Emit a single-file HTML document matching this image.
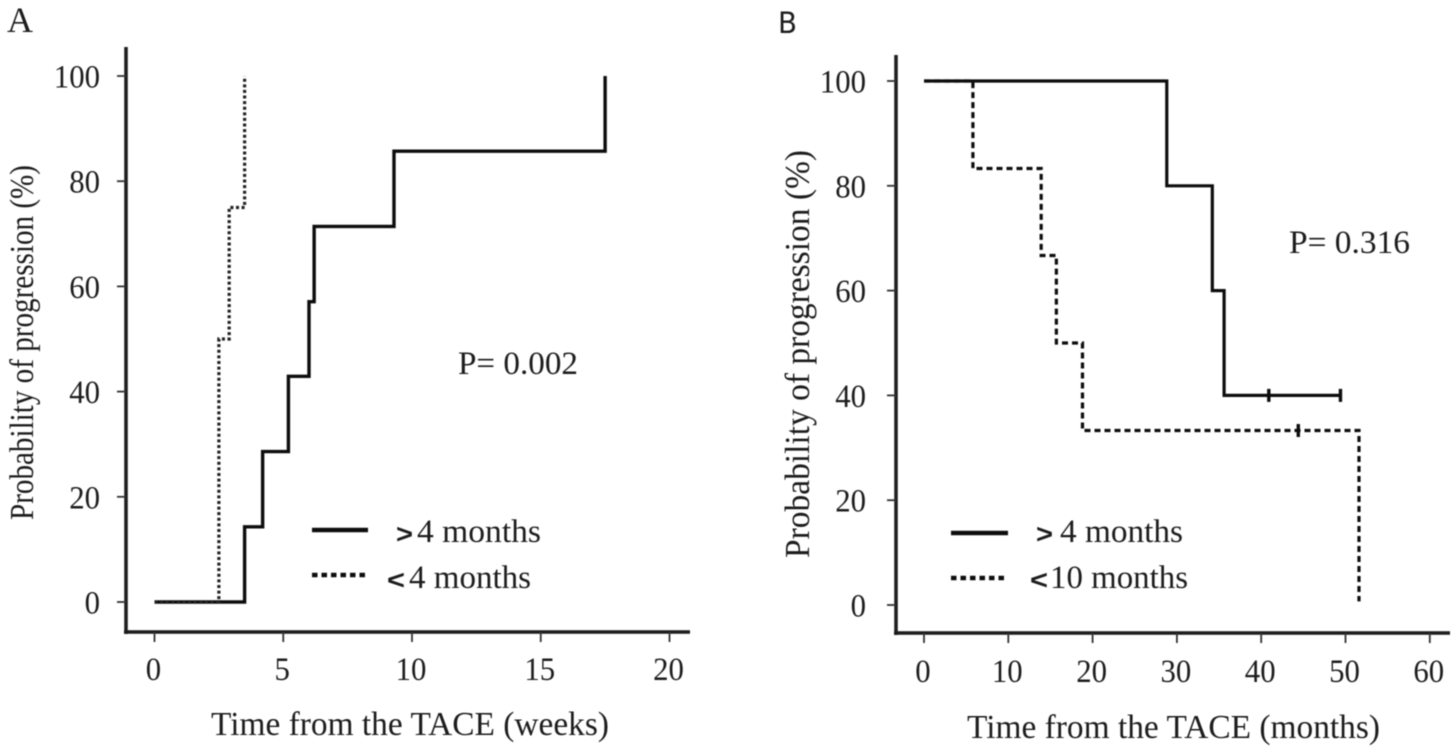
<!DOCTYPE html>
<html lang="en">
<head>
<meta charset="utf-8">
<title>Probability of progression charts</title>
<style>
html,body{margin:0;padding:0;background:#fff;width:1456px;height:752px;overflow:hidden}
svg{display:block}
text{font-family:"Liberation Serif",serif;fill:#1f1f1f}
</style>
</head>
<body>
<svg id="figure" xmlns="http://www.w3.org/2000/svg" width="1456" height="752" viewBox="0 0 1456 752">
<defs><filter id="soft" x="-5%" y="-5%" width="110%" height="110%"><feGaussianBlur stdDeviation="0.5"/></filter></defs>
<g id="root" filter="url(#soft)">
<text x="7" y="32" font-size="36">A</text>
<text x="778" y="33" font-size="29" style="font-family:'DejaVu Sans',sans-serif" textLength="19" lengthAdjust="spacingAndGlyphs">B</text>

<text x="458" y="374" font-size="33" textLength="120" lengthAdjust="spacingAndGlyphs">P= 0.002</text>
<text x="1289" y="253" font-size="33" textLength="121" lengthAdjust="spacingAndGlyphs">P= 0.316</text>

<text x="211" y="735" font-size="34" textLength="398" lengthAdjust="spacingAndGlyphs">Time from the TACE (weeks)</text>
<text x="967" y="738" font-size="34" textLength="413" lengthAdjust="spacingAndGlyphs">Time from the TACE (months)</text>
<text transform="translate(33 520) rotate(-90)" font-size="34" textLength="355" lengthAdjust="spacingAndGlyphs">Probability of progression (%)</text>
<text transform="translate(809 558) rotate(-90)" font-size="35" textLength="408" lengthAdjust="spacingAndGlyphs">Probability of progression (%)</text>

<g>
<line x1="312" y1="530" x2="368" y2="530" stroke="#111" stroke-width="4.5"/>
<text x="396" y="543" font-size="27" font-weight="bold" style="font-family:'Liberation Sans',sans-serif" textLength="17" lengthAdjust="spacingAndGlyphs">&gt;</text>
<text x="417" y="542" font-size="33" textLength="124" lengthAdjust="spacingAndGlyphs">4 months</text>
<line x1="312" y1="575" x2="368" y2="575" stroke="#111" stroke-width="4.5" stroke-dasharray="5.5 4"/>
<text x="387" y="589" font-size="27" font-weight="bold" style="font-family:'Liberation Sans',sans-serif" textLength="18" lengthAdjust="spacingAndGlyphs">&lt;</text>
<text x="409" y="588" font-size="33" textLength="122" lengthAdjust="spacingAndGlyphs">4 months</text>
</g>
<g>
<line x1="951" y1="533" x2="1008" y2="533" stroke="#111" stroke-width="4.5"/>
<text x="1036" y="543" font-size="27" font-weight="bold" style="font-family:'Liberation Sans',sans-serif" textLength="17" lengthAdjust="spacingAndGlyphs">&gt;</text>
<text x="1060" y="542" font-size="33" textLength="123" lengthAdjust="spacingAndGlyphs">4 months</text>
<line x1="951" y1="578" x2="1008" y2="578" stroke="#111" stroke-width="4.5" stroke-dasharray="5.5 4"/>
<text x="1030" y="589" font-size="27" font-weight="bold" style="font-family:'Liberation Sans',sans-serif" textLength="18" lengthAdjust="spacingAndGlyphs">&lt;</text>
<text x="1050" y="588" font-size="33" textLength="138" lengthAdjust="spacingAndGlyphs">10 months</text>
</g>
</g>
</svg>
<script>
const yTickLabels = [0, 20, 40, 60, 80, 100];
const panelAXTickLabels = [0, 5, 10, 15, 20];
const panelBXTickLabels = [0, 10, 20, 30, 40, 50, 60];

const panelASolidTimes = [0, 3.5, 4.2, 5.2, 6.0, 6.2, 9.3, 17.5];
const panelASolidValues = [0, 14.3, 28.6, 42.9, 57.1, 71.4, 85.7, 100];
const panelADottedTimes = [0, 2.5, 2.5, 2.9, 3.5];
const panelADottedValues = [0, 25, 50, 75, 100];

const panelBSolidTimes = [0, 28.8, 34.2, 35.6, 49.5];
const panelBSolidValues = [100, 80, 60, 40, 40];
const panelBDashedTimes = [0, 5.8, 13.9, 15.7, 18.8, 51.6];
const panelBDashedValues = [100, 83.3, 66.7, 50, 33.3, 0.7];
const panelBSolidCensorTimes = [40.9, 49.4];
const panelBSolidCensorValues = [40, 40];
const panelBDashedCensorTimes = [44.4];
const panelBDashedCensorValues = [33.3];

const NS = 'http://www.w3.org/2000/svg';
const root = document.getElementById('root');

function make(tag, attrs, parent) {
  const el = document.createElementNS(NS, tag);
  for (const k in attrs) el.setAttribute(k, attrs[k]);
  (parent || root).appendChild(el);
  return el;
}

function stepPath(times, values, sx, sy) {
  let d = 'M' + sx(times[0]) + ' ' + sy(values[0]);
  for (let i = 1; i < times.length; i++) {
    d += 'H' + sx(times[i]) + 'V' + sy(values[i]);
  }
  return d;
}

function drawAxes(prefix, cfg, sx, sy, xLabels) {
  const axisStyle = { stroke: '#1c1c1c', 'stroke-width': 3.5, fill: 'none' };
  const yAxis = make('line', Object.assign({ x1: cfg.axisX, x2: cfg.axisX, y1: cfg.axisTop, y2: cfg.axisY + 2 }, axisStyle));
  
  
  const xAxis = make('line', Object.assign({ x1: cfg.axisX - 2, x2: cfg.axisRight, y1: cfg.axisY, y2: cfg.axisY }, axisStyle));
  
  

  yTickLabels.forEach(function (v) {
    const tick = make('line', { x1: cfg.axisX - 9, x2: cfg.axisX, y1: sy(v), y2: sy(v), stroke: '#333', 'stroke-width': 1.8 });
    
    
    const w = String(v).length * 15.4;
    const label = make('text', { x: cfg.yLabelRight - w, y: sy(v) + 11.5, 'font-size': 33, textLength: w, lengthAdjust: 'spacingAndGlyphs' });
    label.textContent = v;
    
    
  });

  xLabels.forEach(function (v) {
    const tick = make('line', { x1: sx(v), x2: sx(v), y1: cfg.axisY, y2: cfg.axisY + 10, stroke: '#333', 'stroke-width': 1.8 });
    
    
    const w = String(v).length * 15.4;
    const label = make('text', { x: sx(v) - 1 - w / 2, y: cfg.xLabelBaseline, 'font-size': 33, textLength: w, lengthAdjust: 'spacingAndGlyphs' });
    label.textContent = v;
    
    
  });
}

function drawCensors(name, times, values, sx, sy) {
  times.forEach(function (t, i) {
    const mark = make('line', { x1: sx(t), x2: sx(t), y1: sy(values[i]) - 6.5, y2: sy(values[i]) + 6.5, stroke: '#111', 'stroke-width': 3.4 });
    
    
  });
}

const ax = function (t) { return 154.5 + t * 25.75; };
const ay = function (v) { return 602 - v * 5.26; };
const bx = function (t) { return 924 + t * 8.43; };
const by = function (v) { return 605 - v * 5.24; };

drawAxes('panel-a', { axisX: 126, axisTop: 47, axisY: 632, axisRight: 690, yLabelRight: 100, xLabelBaseline: 680 }, ax, ay, panelAXTickLabels);
drawAxes('panel-b', { axisX: 896, axisTop: 55, axisY: 633, axisRight: 1450, yLabelRight: 866, xLabelBaseline: 682 }, bx, by, panelBXTickLabels);

const aSolid = make('path', { d: stepPath(panelASolidTimes, panelASolidValues, ax, ay), fill: 'none', stroke: '#111', 'stroke-width': 3.4 });


const aDotted = make('path', { d: stepPath(panelADottedTimes, panelADottedValues, ax, ay), fill: 'none', stroke: '#222', 'stroke-width': 3.2, 'stroke-dasharray': '3 2.6' });



const bSolid = make('path', { d: stepPath(panelBSolidTimes, panelBSolidValues, bx, by), fill: 'none', stroke: '#111', 'stroke-width': 3.2 });


const bDashed = make('path', { d: stepPath(panelBDashedTimes, panelBDashedValues, bx, by), fill: 'none', stroke: '#111', 'stroke-width': 3.2, 'stroke-dasharray': '6 4' });



drawCensors('panel-b-solid-censor-mark', panelBSolidCensorTimes, panelBSolidCensorValues, bx, by);
drawCensors('panel-b-dashed-censor-mark', panelBDashedCensorTimes, panelBDashedCensorValues, bx, by);
</script>
</body>
</html>
